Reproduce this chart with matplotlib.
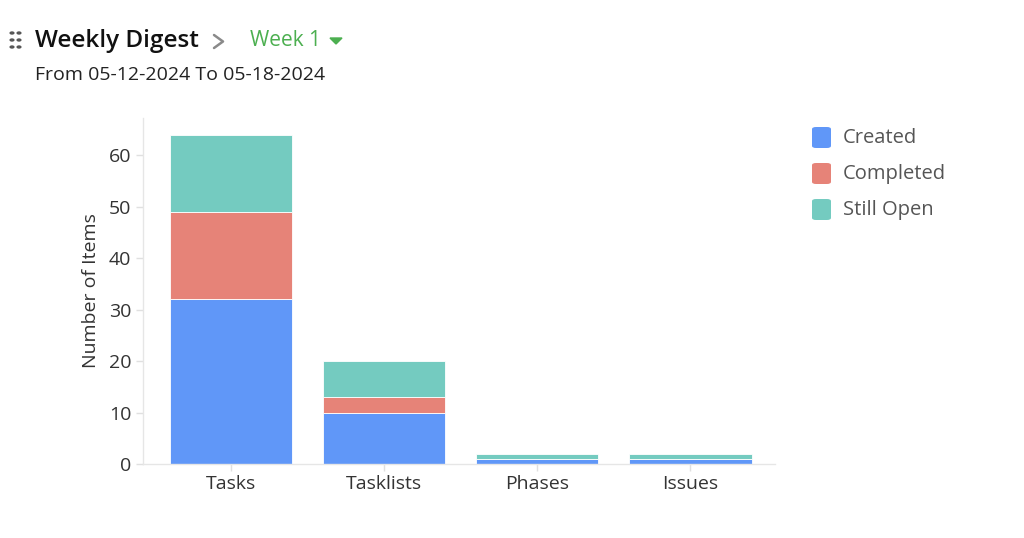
import matplotlib
matplotlib.use('Agg')
import matplotlib.pyplot as plt
from matplotlib.patches import Circle, FancyBboxPatch, Polygon
from matplotlib.lines import Line2D

# Datos del gráfico
categorias = ['Tasks', 'Tasklists', 'Phases', 'Issues']
creados = [32, 10, 1, 1]
completados = [17, 3, 0, 0]
abiertos = [15, 7, 1, 1]
series = ['Created', 'Completed', 'Still Open']
colores = ['#6097F8', '#E68378', '#74CBC0']

plt.rcParams['font.family'] = ['Open Sans', 'DejaVu Sans']

fig = plt.figure(figsize=(10.24, 5.38), dpi=100)
ax = fig.add_axes([0.1396, 0.1375, 0.6175, 0.643])

x = range(len(categorias))
ax.bar(x, creados, width=0.8, color=colores[0], edgecolor='white', linewidth=0.6)
ax.bar(x, completados, width=0.8, bottom=creados, color=colores[1],
       edgecolor='white', linewidth=0.6)
base = [a + b for a, b in zip(creados, completados)]
ax.bar(x, abiertos, width=0.8, bottom=base, color=colores[2],
       edgecolor='white', linewidth=0.6)

ax.set_xlim(-0.575, 3.555)
ax.set_ylim(0, 67.2)
ax.set_xticks(list(x))
ax.set_xticklabels(categorias)
ax.set_yticks(range(0, 61, 10))
ax.tick_params(axis='both', colors='#E0E0E0', labelcolor='#333333',
               labelsize=14, length=5, width=1)
ax.tick_params(axis='x', pad=3)
ax.set_ylabel('Number of Items', fontsize=14, color='#333333', labelpad=6)
for s in ['top', 'right']:
    ax.spines[s].set_visible(False)
for s in ['left', 'bottom']:
    ax.spines[s].set_color('#E6E6E6')
    ax.spines[s].set_linewidth(1)

# Leyenda
for i, (nombre, c) in enumerate(zip(series, colores)):
    y = 1 - (138 + i * 36) / 538
    fig.add_artist(FancyBboxPatch((812 / 1024, y - 10 / 538), 19 / 1024, 21 / 538,
                                  boxstyle='round,pad=0,rounding_size=0.004',
                                  transform=fig.transFigure, color=c, linewidth=0))
    fig.text(843 / 1024, y, nombre, fontsize=14.5, color='#555555', va='center')

# Cabecera
for dx in (0, 7):
    for dy in (0, 7, 14):
        fig.add_artist(Circle(((12 + dx) / 1024, 1 - (33 + dy) / 538), 0.0018,
                              transform=fig.transFigure, color='#555555'))
fig.text(35 / 1024, 1 - 41 / 538, 'Weekly Digest', fontsize=17.5, fontweight='semibold',
         color='#111111', va='center')
fig.add_artist(Line2D([214 / 1024, 223 / 1024, 214 / 1024],
                      [1 - 35 / 538, 1 - 41.5 / 538, 1 - 48 / 538],
                      transform=fig.transFigure, color='#8A8A8A', linewidth=1.8,
                      solid_capstyle='round', solid_joinstyle='round'))
fig.text(250 / 1024, 1 - 40 / 538, 'Week 1', fontsize=15, color='#4CAF50', va='center')
fig.add_artist(Polygon([(330 / 1024, 1 - 38 / 538), (342 / 1024, 1 - 38 / 538),
                        (336 / 1024, 1 - 44 / 538)], closed=True,
                       transform=fig.transFigure, color='#4CAF50'))
fig.text(35 / 1024, 1 - 75 / 538, 'From 05-12-2024 To 05-18-2024', fontsize=14,
         color='#222222', va='center')

fig.savefig('out.png', dpi=100)
